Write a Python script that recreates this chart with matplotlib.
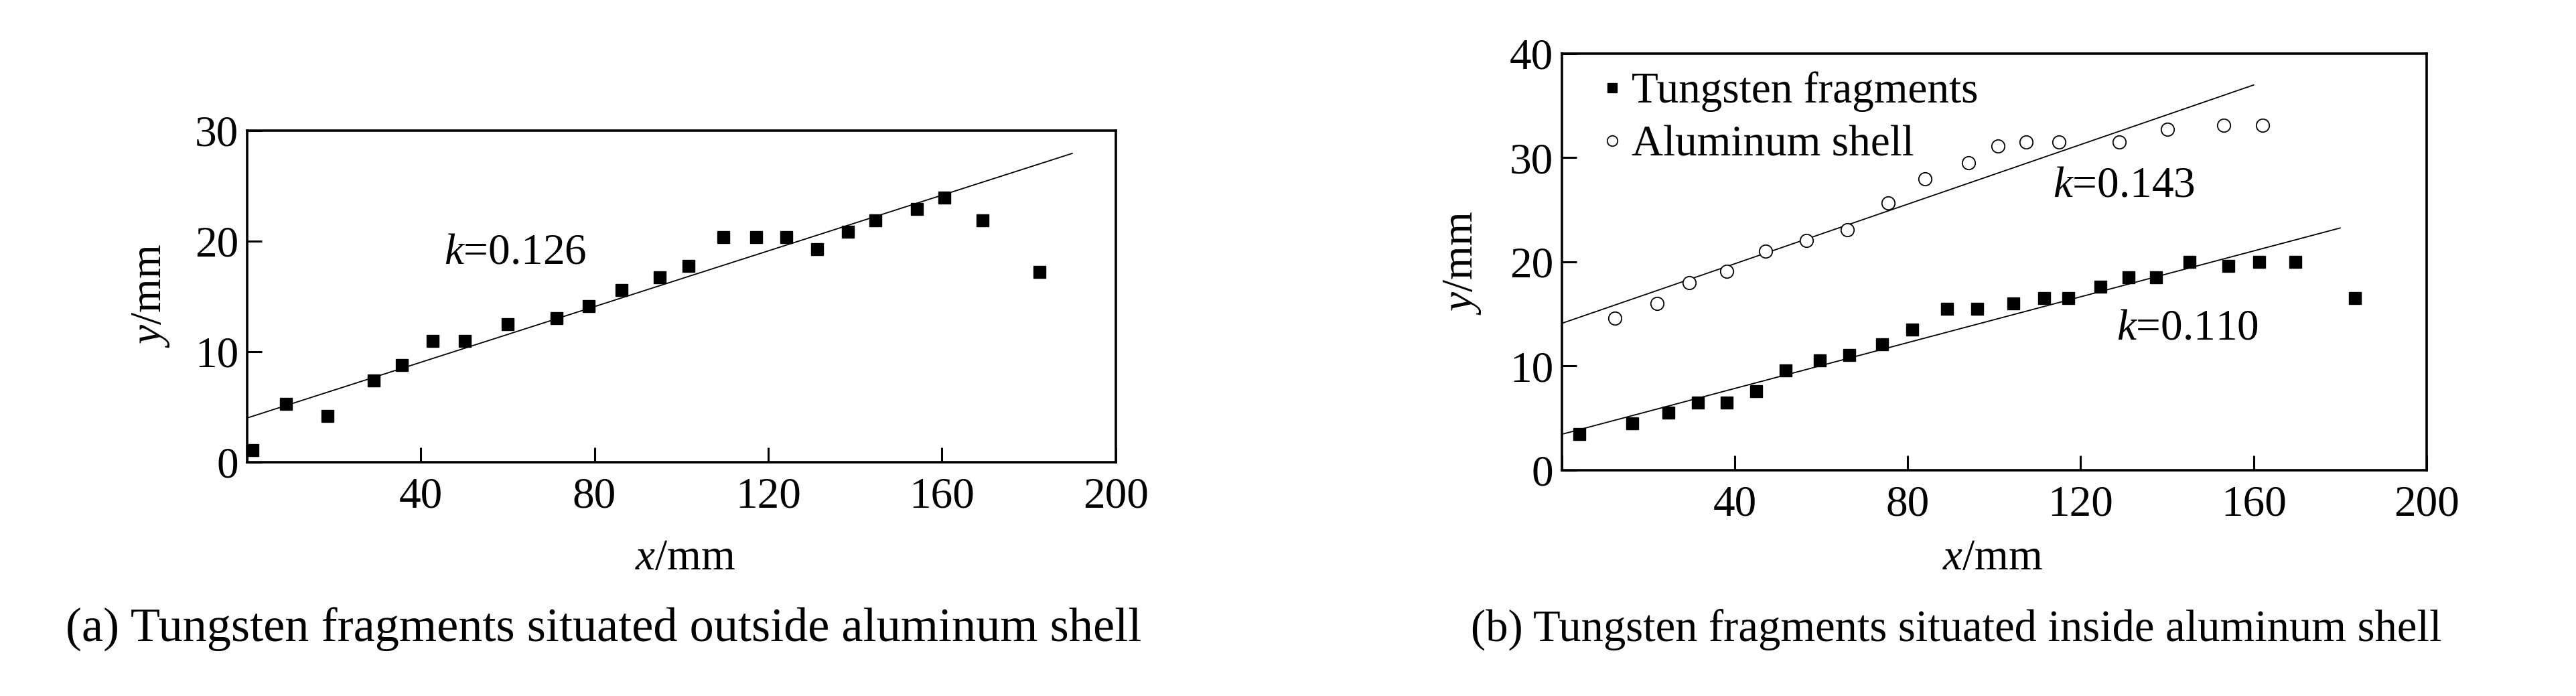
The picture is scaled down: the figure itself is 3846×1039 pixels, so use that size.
import numpy as np
import matplotlib
matplotlib.use("Agg")
import matplotlib.pyplot as plt

plt.rcParams['font.family'] = ['Liberation Serif', 'DejaVu Serif']
plt.rcParams['mathtext.fontset'] = 'custom'
plt.rcParams['mathtext.rm'] = 'Liberation Serif'
plt.rcParams['mathtext.it'] = 'Liberation Serif:italic'

# (a) tungsten fragments outside the aluminum shell
xa = [1.3, 9, 18.6, 29.1, 35.6, 42.7, 50.1, 60, 71.3, 78.7, 86.3, 95.1, 101.7,
      109.7, 117.3, 124.1, 131.3, 138.3, 144.7, 154.3, 160.6, 169.3, 182.4]
ya = [1.1, 5.25, 4.2, 7.4, 8.8, 11.0, 11.0, 12.5, 13.05, 14.1, 15.6, 16.7, 17.75,
      20.35, 20.35, 20.35, 19.3, 20.85, 21.9, 22.9, 23.95, 21.9, 17.2]
fit_a = (0.126, 4.0, 0, 190)  # slope, intercept, x start, x end

# (b) tungsten fragments inside the aluminum shell
xb_w = [4.1, 16.3, 24.6, 31.4, 38.1, 44.9, 51.8, 59.7, 66.5, 74.1, 81, 89.1, 96,
        104.4, 111.5, 117.1, 124.5, 131, 137.4, 145.2, 154.2, 161.3, 169.7, 183.4]
yb_w = [3.5, 4.5, 5.5, 6.5, 6.5, 7.6, 9.55, 10.55, 11.05, 12.07, 13.5, 15.5, 15.5,
        16.0, 16.5, 16.5, 17.6, 18.5, 18.5, 20.0, 19.6, 20.0, 20.0, 16.5]
xb_al = [12.2, 22, 29.5, 38.1, 47.1, 56.6, 66, 75.4, 84, 94, 100.9, 107.3, 115,
         128.9, 140, 153.1, 162.1]
yb_al = [14.57, 16.0, 18.0, 19.08, 21.03, 22.04, 23.05, 25.63, 28.0, 29.5, 31.1,
         31.5, 31.5, 31.5, 32.7, 33.1, 33.1]
fit_b_w = (0.110, 3.45, 0, 180)
fit_b_al = (0.143, 14.1, 0, 160)

FS = 47

fig = plt.figure(figsize=(38.46, 10.39), dpi=100)
ax1 = fig.add_axes([0.0959, 0.3359, 0.3372, 0.4764])
ax2 = fig.add_axes([0.6063, 0.3244, 0.3357, 0.5987])


def fit_line(ax, p):
    k, b, x0, x1 = p
    xs = np.array([x0, x1])
    ax.plot(xs, b + k * xs, color='black', lw=1.3, zorder=2)


def style(ax, ymax, ystep):
    ax.set_xlim(0, 200)
    ax.set_ylim(0, ymax)
    ax.set_xticks([0, 40, 80, 120, 160, 200])
    ax.set_xticklabels(['', '40', '80', '120', '160', '200'])
    ax.set_yticks(np.arange(0, ymax + 1, ystep))
    ax.tick_params(direction='in', length=16, width=2.2, labelsize=FS)
    ax.tick_params(axis='x', pad=16)
    ax.tick_params(axis='y', pad=9)
    for s in ax.spines.values():
        s.set_linewidth(2.6)


# panel (a)
ax1.plot(xa, ya, 's', color='black', ms=13, zorder=3, clip_on=False)
fit_line(ax1, fit_a)
style(ax1, 30, 10)
ax1.text(61.8, 18.9, '$k$=0.126', fontsize=FS, ha='center', va='center')

# panel (b)
ax2.plot(xb_w, yb_w, 's', color='black', ms=13, zorder=3, label='Tungsten fragments')
ax2.plot(xb_al, yb_al, 'o', mfc='white', mec='black', mew=1.3, ms=14, zorder=3,
         label='Aluminum shell')
fit_line(ax2, fit_b_w)
fit_line(ax2, fit_b_al)
style(ax2, 40, 10)
ax2.text(130, 27.3, '$k$=0.143', fontsize=FS, ha='center', va='center')
ax2.text(144.7, 13.6, '$k$=0.110', fontsize=FS, ha='center', va='center')
ax2.legend(loc='upper left', bbox_to_anchor=(0.0, 1.051), frameon=False, fontsize=FS,
           handlelength=0.5, handletextpad=0.2, labelspacing=0.3,
           borderaxespad=0.6, borderpad=0.3, markerscale=0.8)

# axis labels and captions
fig.text(226 / 3846, 1 - 441 / 1039, '$y$/mm', rotation=90, fontsize=FS,
         ha='center', va='center')
fig.text(2183 / 3846, 1 - 392 / 1039, '$y$/mm', rotation=90, fontsize=FS,
         ha='center', va='center')
fig.text(1023 / 3846, 1 - 834 / 1039, '$x$/mm', fontsize=FS, ha='center', va='center')
fig.text(2975 / 3846, 1 - 834 / 1039, '$x$/mm', fontsize=FS, ha='center', va='center')
fig.text(901 / 3846, 1 - 940 / 1039,
         '(a) Tungsten fragments situated outside aluminum shell',
         fontsize=52, ha='center', va='center')
fig.text(2921 / 3846, 1 - 940 / 1039,
         '(b) Tungsten fragments situated inside aluminum shell',
         fontsize=48, ha='center', va='center')

fig.savefig('out.png', dpi=100)
